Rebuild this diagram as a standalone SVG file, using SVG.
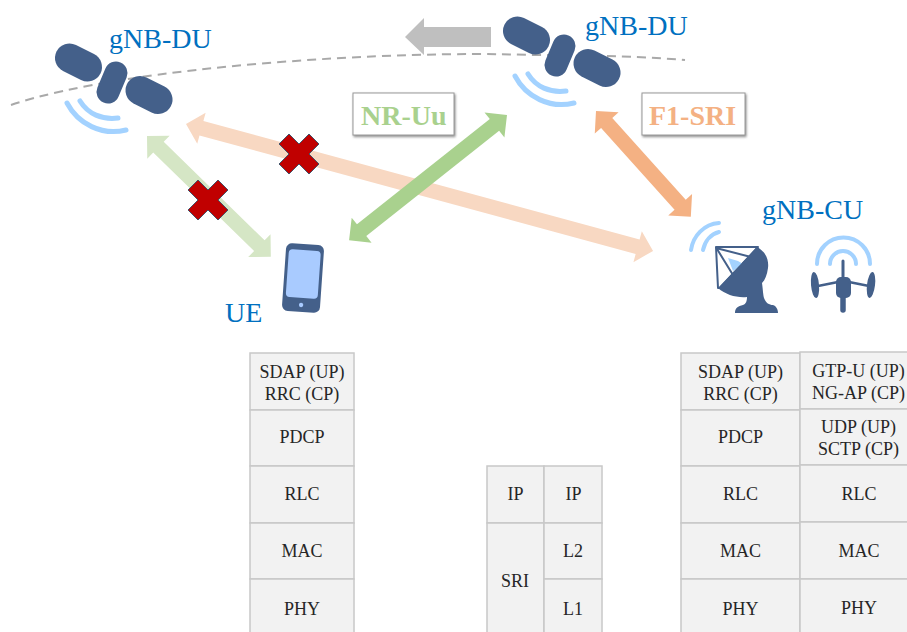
<svg xmlns="http://www.w3.org/2000/svg" width="907" height="632" viewBox="0 0 907 632">
<defs>
<filter id="sh" x="-10%" y="-20%" width="125%" height="145%"><feDropShadow dx="1" dy="1.500" stdDeviation="1" flood-color="#707070" flood-opacity="0.8"/></filter>
<g id="sat">
<path class="p" stroke-width="29" d="M69.500 58L87.500 67"/>
<path class="p" stroke-width="23" d="M116 73L108 92"/>
<path class="p" stroke-width="29" d="M140 90.500L158 99.500"/>
<path class="w" d="M67 103C78 124 102 136 126 130"/>
<path class="w" d="M80 101C88 114 102 120 118 118"/>
</g>
<polygon id="x" points="-10,-20 0,-10 10,-20 20,-10 10,0 20,10 10,20 0,10 -10,20 -20,10 -10,0 -20,-10" fill="#c00000" stroke="#44546a" stroke-width="1"/>
</defs>
<style>
.p{fill:none;stroke:#44608a;stroke-linecap:round}
.w{fill:none;stroke:#a3d2ff;stroke-width:5;stroke-linecap:round}
.l{font-family:"Liberation Serif","Times New Roman",serif;font-size:28px;fill:#0070c0}
.b{font-family:"Liberation Serif","Times New Roman",serif;font-size:28px;font-weight:bold}
.c{fill:#f2f2f2;stroke:#c8c8c8;stroke-width:1.500}
.t{font-family:"Liberation Serif","Times New Roman",serif;font-size:18px;fill:#262626;text-anchor:middle}
.d{fill:#44608a}
</style>
<rect width="907" height="632" fill="#fff"/>
<path id="orbit" d="M11 105C130 65 400 50 530 55C600 55 650 57 685 60" fill="none" stroke="#a9a9a9" stroke-width="2" stroke-dasharray="9 6"/>
<g id="connectors">
<polygon fill="#bfbfbf" points="405,37 424,18 424,27 491,27 491,47 424,47 424,55"/>
<polygon fill="#d5e6c5" transform="translate(147,136) rotate(44.300)" points="0,0 16,-16 16,-7.500 157,-7.500 157,-16 173,0 157,16 157,7.500 16,7.500 16,16"/>
<polygon fill="#f8d8c2" transform="translate(186,124) rotate(15.200)" points="0,0 16,-16 16,-7.500 468,-7.500 468,-16 484,0 468,16 468,7.500 16,7.500 16,16"/>
<polygon fill="#a9d18e" transform="translate(507,115) rotate(141.600)" points="0,0 16,-16 16,-7.500 185.500,-7.500 185.500,-16 201.500,0 185.500,16 185.500,7.500 16,7.500 16,16"/>
<polygon fill="#f4b183" transform="translate(596,111) rotate(48.100)" points="0,0 16,-16 16,-7.500 126,-7.500 126,-16 142,0 126,16 126,7.500 16,7.500 16,16"/>
<use href="#x" x="299" y="154"/>
<use href="#x" x="208" y="200"/>
</g>
<g id="du1">
<use href="#sat"/>
<text class="l" x="109" y="48">gNB-DU</text>
</g>
<g id="du2">
<use href="#sat" x="448" y="-27"/>
<text class="l" x="585" y="35">gNB-DU</text>
</g>
<g id="ue">
<g transform="rotate(4 303 278)">
<rect class="d" x="284" y="244" width="38" height="68" rx="6"/>
<rect x="287" y="250" width="32" height="48" rx="4" fill="#a9cbff"/>
<circle cx="303" cy="305" r="2.200" fill="#a9cbff"/>
</g>
<text class="l" x="225" y="322">UE</text>
</g>
<g id="nr-uu">
<rect x="353" y="93" width="101" height="42" fill="#fff" stroke="#999" stroke-width="1" filter="url(#sh)"/>
<text class="b" x="361" y="125" fill="#a9d18e">NR-Uu</text>
</g>
<g id="f1-sri">
<rect x="642" y="93" width="103" height="42" fill="#fff" stroke="#999" stroke-width="1" filter="url(#sh)"/>
<text class="b" x="649" y="125" fill="#f4b183">F1-SRI</text>
</g>
<g id="cu">
<text class="l" x="762" y="219">gNB-CU</text>
<path class="w" stroke-width="4" style="stroke-width:4" d="M691 250C693 236 704 224 719 223"/>
<path class="w" style="stroke-width:4" d="M703 250C705 241 711 234 719 232"/>
<path fill="#fff" stroke="#44608a" stroke-width="2" stroke-linejoin="round" d="M716 247H758L720 288L718 288Z"/>
<path fill="none" stroke="#44608a" stroke-width="2" d="M716 248L751 257M717 249L733 275"/>
<polygon fill="#a3d2ff" points="728,258 738,261 743,264 733,271"/>
<path class="d" d="M757 247C766 252 769 260 768 268C767 275 765 280 762 283C763 290 763 294 764 298C766 303 769 305 773 305C776 306 778 309 778 313H735C735 308 738 306 743 305C746 304 747 301 747 297C737 298 726 295 718 288Z"/>
<path class="w" style="stroke-width:4" d="M817 264A26.500 26.500 0 0 1 870 264"/>
<path class="w" style="stroke-width:4" d="M830 264A13 13 0 0 1 856 264"/>
<path d="M843 261V280" stroke="#44608a" stroke-width="3" stroke-linecap="round"/>
<path d="M843 290V310" stroke="#44608a" stroke-width="5.500" stroke-linecap="round"/>
<rect class="d" x="836" y="277" width="15" height="21" rx="5"/>
<path d="M818 286L838 282M869 286L849 282" stroke="#44608a" stroke-width="2.500"/>
<ellipse class="d" cx="815" cy="285" rx="4" ry="13" transform="rotate(-5 815 285)"/>
<ellipse class="d" cx="871" cy="285" rx="4" ry="13" transform="rotate(7 871 285)"/>
</g>
<g id="stack-ue">
<rect class="c" x="250" y="353" width="104" height="57"/>
<rect class="c" x="250" y="410" width="104" height="56"/>
<rect class="c" x="250" y="466" width="104" height="57"/>
<rect class="c" x="250" y="523" width="104" height="56"/>
<rect class="c" x="250" y="579" width="104" height="60"/>
<text class="t" x="302" y="378">SDAP (UP)</text>
<text class="t" x="302" y="400">RRC (CP)</text>
<text class="t" x="302" y="443">PDCP</text>
<text class="t" x="302" y="500">RLC</text>
<text class="t" x="302" y="557">MAC</text>
<text class="t" x="302" y="615">PHY</text>
</g>
<g id="stack-du">
<rect class="c" x="487" y="466" width="57" height="57"/>
<rect class="c" x="544" y="466" width="58" height="57"/>
<rect class="c" x="487" y="523" width="57" height="116"/>
<rect class="c" x="544" y="523" width="58" height="56"/>
<rect class="c" x="544" y="579" width="58" height="60"/>
<text class="t" x="515.500" y="500">IP</text>
<text class="t" x="573.500" y="500">IP</text>
<text class="t" x="515" y="587">SRI</text>
<text class="t" x="573" y="557">L2</text>
<text class="t" x="573" y="615">L1</text>
</g>
<g id="stack-cu">
<rect class="c" x="681" y="353" width="119" height="57"/>
<rect class="c" x="681" y="410" width="119" height="56"/>
<rect class="c" x="681" y="466" width="119" height="57"/>
<rect class="c" x="681" y="523" width="119" height="56"/>
<rect class="c" x="681" y="579" width="119" height="60"/>
<rect class="c" x="800" y="352" width="120" height="57"/>
<rect class="c" x="800" y="409" width="120" height="56"/>
<rect class="c" x="800" y="465" width="120" height="57"/>
<rect class="c" x="800" y="522" width="120" height="57"/>
<rect class="c" x="800" y="579" width="120" height="60"/>
<text class="t" x="740.500" y="378">SDAP (UP)</text>
<text class="t" x="740.500" y="400">RRC (CP)</text>
<text class="t" x="740.500" y="443">PDCP</text>
<text class="t" x="740.500" y="500">RLC</text>
<text class="t" x="740.500" y="557">MAC</text>
<text class="t" x="740.500" y="615">PHY</text>
<text class="t" x="858.500" y="377">GTP-U (UP)</text>
<text class="t" x="858.500" y="399">NG-AP (CP)</text>
<text class="t" x="858.500" y="433">UDP (UP)</text>
<text class="t" x="858.500" y="455">SCTP (CP)</text>
<text class="t" x="859" y="500">RLC</text>
<text class="t" x="859" y="557">MAC</text>
<text class="t" x="859" y="614">PHY</text>
</g>
</svg>
